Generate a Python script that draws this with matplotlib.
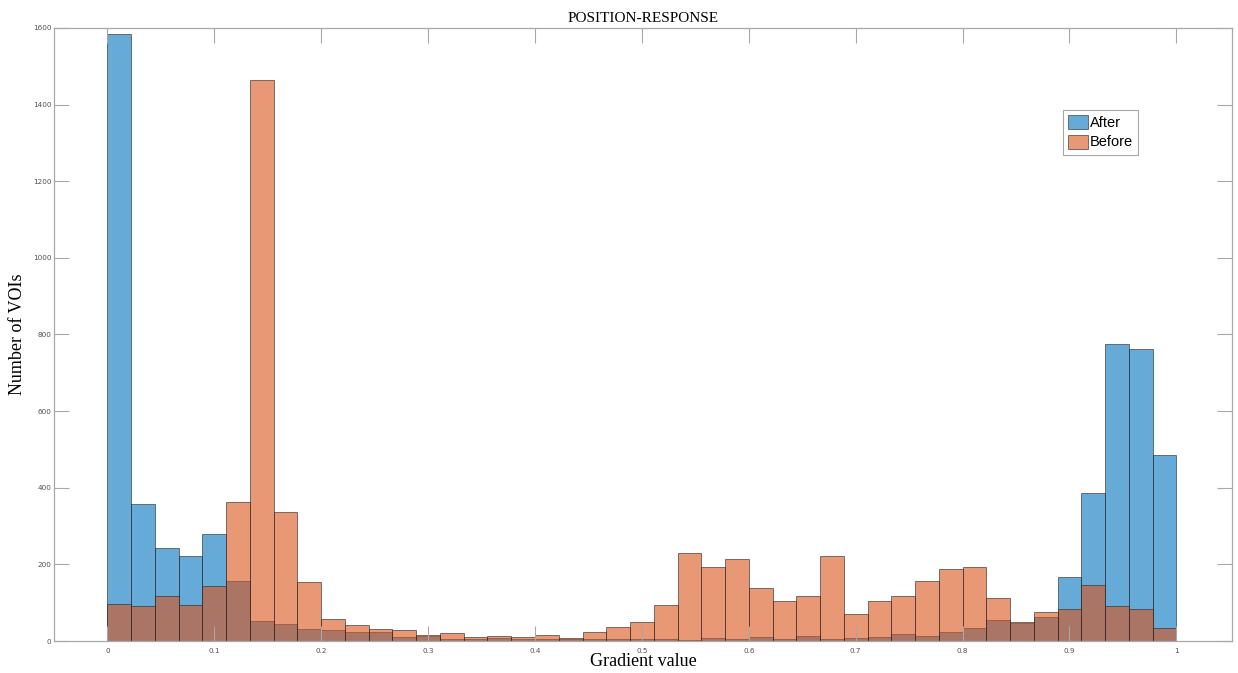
#!/usr/bin/env python3

"""
plot.py

Overlaid histograms of gradient values, before and after (MATLAB look).
"""

import numpy as np
import matplotlib
matplotlib.use('Agg')
import matplotlib.pyplot as plt


# 45 equal bins over [0, 1]
bin_count = 45

after_counts = [
    1583, 358, 244, 223, 280, 157, 53, 45, 32, 28,
    23, 23, 11, 13, 6, 6, 7, 6, 6, 4,
    4, 4, 4, 4, 3, 7, 6, 10, 5, 13,
    5, 9, 10, 18, 13, 23, 35, 54, 48, 62,
    166, 387, 775, 761, 485,
]

before_counts = [
    97, 92, 117, 95, 143, 363, 1465, 337, 155, 57,
    41, 31, 28, 16, 22, 10, 13, 10, 15, 9,
    24, 36, 50, 95, 230, 194, 214, 139, 104, 117,
    223, 70, 104, 117, 157, 188, 193, 113, 50, 75,
    84, 147, 91, 84, 35,
]

series_names = ['After', 'Before']
x_ticks = [0, 0.1, 0.2, 0.3, 0.4, 0.5, 0.6, 0.7, 0.8, 0.9, 1]
x_tick_labels = ['0', '0.1', '0.2', '0.3', '0.4', '0.5', '0.6', '0.7', '0.8', '0.9', '1']
y_ticks = [0, 200, 400, 600, 800, 1000, 1200, 1400, 1600]

AFTER_COLOR = (0.0, 0.447, 0.741, 0.6)
BEFORE_COLOR = (0.85, 0.325, 0.098, 0.6)
AXIS_GRAY = '#a8a8a8'


def make_plot():
    edges = np.linspace(0, 1, bin_count + 1)
    width = edges[1] - edges[0]

    figure = plt.figure(figsize=(12.38, 6.73), dpi=100)
    axes = figure.add_axes([0.0436, 0.0475, 0.9515, 0.911])

    for counts, color, name in zip(
        [after_counts, before_counts],
        [AFTER_COLOR, BEFORE_COLOR],
        series_names,
    ):
        axes.bar(
            edges[:-1],
            counts,
            width=width,
            align='edge',
            facecolor=color,
            edgecolor=(0.15, 0.15, 0.15, 0.6),
            linewidth=0.7,
            label=name,
        )

    axes.set_xlim(-0.05, 1.052)
    axes.set_ylim(0, 1600)
    axes.set_xticks(x_ticks)
    axes.set_xticklabels(x_tick_labels)
    axes.set_yticks(y_ticks)

    axes.tick_params(
        direction='in', length=11, width=0.8, color=AXIS_GRAY,
        labelcolor='#505050', labelsize=5.2,
        top=True, right=True,
    )
    axes.tick_params(axis='y', pad=2)
    axes.tick_params(axis='x', pad=5)
    for spine in axes.spines.values():
        spine.set_color(AXIS_GRAY)
        spine.set_linewidth(0.9)

    serif = ['Liberation Serif', 'DejaVu Serif']
    axes.set_title('POSITION-RESPONSE', family=serif, fontsize=11, pad=4)
    axes.set_xlabel('Gradient value', family=serif, fontsize=13)
    axes.set_ylabel('Number of VOIs', family=serif, fontsize=13)
    axes.xaxis.set_label_coords(0.5, -0.019)
    axes.yaxis.set_label_coords(-0.024, 0.5)

    legend = axes.legend(
        loc='upper left',
        bbox_to_anchor=(0.8565, 0.866),
        borderaxespad=0,
        prop={'family': 'Liberation Sans', 'size': 10.5},
        fancybox=False,
        handlelength=1.4,
        handleheight=1.1,
        handletextpad=0.1,
        labelspacing=0.3,
        borderpad=0.35,
    )
    legend.get_frame().set_edgecolor('#909090')
    legend.get_frame().set_linewidth(0.8)

    figure.savefig('out.png', dpi=100)


def main():
    make_plot()


if __name__ == '__main__':
    main()
